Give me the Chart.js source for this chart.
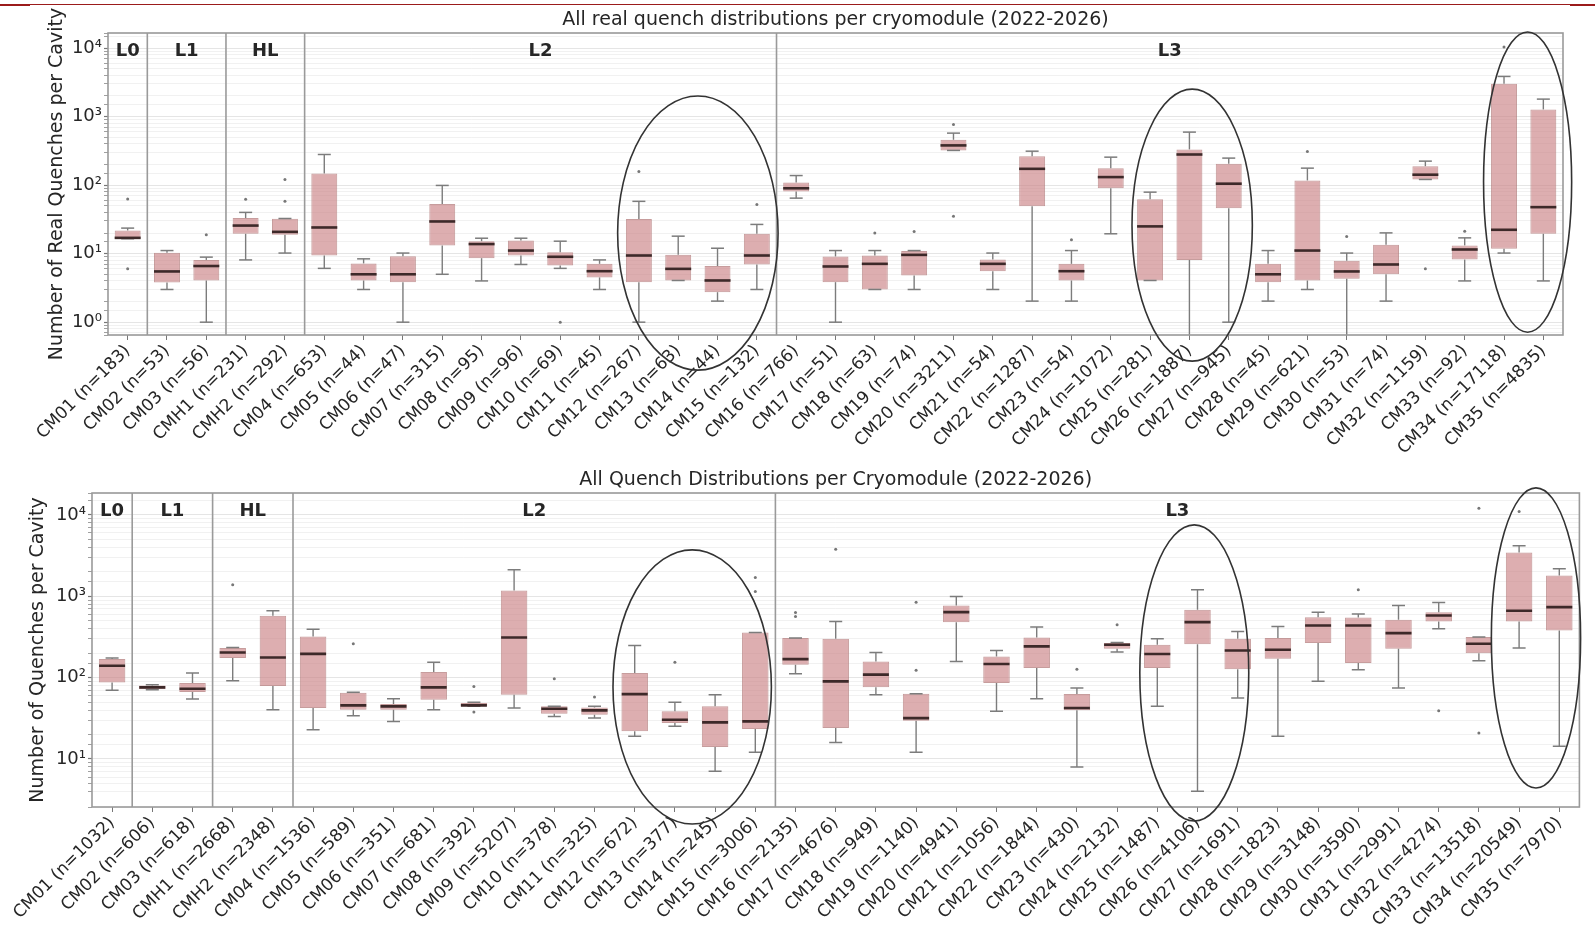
<!DOCTYPE html>
<html lang="en">
<head>
<meta charset="UTF-8">
<title>Quench distributions per cryomodule</title>
<style>
  body { margin: 0; background: #fff; width: 1595px; height: 939px; overflow: hidden; position: relative; }
  .rule { position: absolute; background: #9b1b1b; }
  canvas { position: absolute; left: 0; }
  #chartReal { top: 0; }
  #chartAll { top: 460px; }
</style>
<script src="https://cdn.jsdelivr.net/npm/chart.js"></script>
</head>
<body>
<div class="rule" style="left:0;top:4px;width:1595px;height:1.3px"></div>
<div class="rule" style="left:0;top:4px;width:30px;height:2.4px"></div>
<div class="rule" style="left:1570px;top:4px;width:25px;height:2.4px"></div>

<canvas id="chartReal" width="1595" height="460"></canvas>
<canvas id="chartAll" width="1595" height="479"></canvas>

<script>
// ---- top panel: real quenches per cavity ----
const realLabels = ['CM01 (n=183)','CM02 (n=53)','CM03 (n=56)','CMH1 (n=231)','CMH2 (n=292)','CM04 (n=653)','CM05 (n=44)','CM06 (n=47)','CM07 (n=315)','CM08 (n=95)','CM09 (n=96)','CM10 (n=69)','CM11 (n=45)','CM12 (n=267)','CM13 (n=63)','CM14 (n=44)','CM15 (n=132)','CM16 (n=766)','CM17 (n=51)','CM18 (n=63)','CM19 (n=74)','CM20 (n=3211)','CM21 (n=54)','CM22 (n=1287)','CM23 (n=54)','CM24 (n=1072)','CM25 (n=281)','CM26 (n=1887)','CM27 (n=945)','CM28 (n=45)','CM29 (n=621)','CM30 (n=53)','CM31 (n=74)','CM32 (n=1159)','CM33 (n=92)','CM34 (n=17118)','CM35 (n=4835)'];
const realLow  = [16.5, 3.0, 1, 8.1, 10.2, 6.1, 3.0, 1, 5.0, 4.0, 6.95, 6.1, 3.0, 1, 4.06, 2.03, 3.0, 64.6, 1, 3.0, 3.0, 321, 3.0, 2.03, 2.03, 19.5, 4.06, 0.5, 1, 2.03, 3.0, 0.5, 2.03, 121, 4.0, 10.2, 4.0];
const realQ1   = [16.5, 3.8, 4.06, 19.5, 18.8, 9.4, 4.06, 3.84, 13.2, 8.6, 9.4, 6.7, 4.5, 3.84, 4.06, 2.74, 6.95, 81, 3.84, 3.0, 4.8, 321, 5.55, 49, 4.06, 90, 4.06, 8.1, 46, 3.84, 4.06, 4.3, 5.0, 121, 8.2, 11.8, 19.5];
const realMed  = [17, 5.5, 6.6, 25.7, 20.8, 24.1, 5.0, 5.0, 29.5, 13.8, 11.1, 9.0, 5.55, 9.4, 6.0, 4.06, 9.4, 90, 6.5, 7.1, 9.6, 380, 7.1, 173, 5.55, 131, 25, 280, 105, 5.0, 11.1, 5.5, 6.95, 142, 11.5, 22.3, 47.7];
const realQ3   = [21.8, 10.3, 8.1, 33, 32.3, 148, 7.2, 9.2, 53, 15.2, 15.6, 10.5, 7.1, 32, 9.6, 6.6, 19.5, 109, 9.1, 9.4, 10.9, 459, 8.2, 265, 7.1, 177, 62, 332, 205, 7.1, 117, 7.9, 13.5, 189, 13.2, 3012, 1273];
const realHigh = [23.6, 11.1, 8.9, 40, 32.6, 280, 8.4, 10.2, 99, 16.8, 16.8, 15.2, 8.1, 58, 18, 12, 26.7, 138, 11.1, 11.1, 11.1, 574, 10.2, 313, 11.1, 256, 79, 594, 248, 11.1, 177, 10.2, 20.1, 224, 17, 3856, 1800];
const realOutliers = [[63, 6], [], [18.8], [62], [121, 58], [], [], [], [], [], [], [1], [], [158], [], [], [52], [], [], [20], [21], [769, 35], [], [], [15.9], [], [], [], [], [], [310], [17.8], [], [6], [21.3], [10340], []];

// ---- bottom panel: all quenches per cavity ----
const allLabels = ['CM01 (n=1032)','CM02 (n=606)','CM03 (n=618)','CMH1 (n=2668)','CMH2 (n=2348)','CM04 (n=1536)','CM05 (n=589)','CM06 (n=351)','CM07 (n=681)','CM08 (n=392)','CM09 (n=5207)','CM10 (n=378)','CM11 (n=325)','CM12 (n=672)','CM13 (n=377)','CM14 (n=245)','CM15 (n=3006)','CM16 (n=2135)','CM17 (n=4676)','CM18 (n=949)','CM19 (n=1140)','CM20 (n=4941)','CM21 (n=1056)','CM22 (n=1844)','CM23 (n=430)','CM24 (n=2132)','CM25 (n=1487)','CM26 (n=4106)','CM27 (n=1691)','CM28 (n=1823)','CM29 (n=3148)','CM30 (n=3590)','CM31 (n=2991)','CM32 (n=4274)','CM33 (n=13518)','CM34 (n=20549)','CM35 (n=7970)'];
const allLow  = [70, 71, 54.6, 91.6, 40.4, 22.9, 34, 29, 40.4, 44.4, 42.3, 33.4, 31.8, 19, 25.2, 7.06, 12.1, 112, 16, 61.7, 12.1, 158, 38.5, 55, 8.0, 206, 44.4, 4.0, 56, 19, 90, 125, 74.5, 398, 161, 231, 14.3];
const allQ1   = [87, 72, 66.5, 174, 79, 42.3, 40.4, 40.4, 53.6, 44.4, 61.7, 36, 35, 21.9, 27.7, 14, 23.3, 144, 24, 76, 29.6, 481, 86, 131, 39.6, 226, 131, 258, 127, 171, 266, 151, 226, 490, 200, 490, 380];
const allMed  = [140, 76, 73, 204, 177, 196, 45.6, 44.4, 76, 45.6, 312, 41.5, 39.6, 62.8, 30.4, 28.2, 29, 169, 90, 109, 31.8, 638, 147, 242, 42.3, 254, 195, 481, 216, 220, 438, 438, 352, 581, 261, 663, 735];
const allQ3   = [169, 80, 86, 231, 576, 321, 65, 47.3, 117, 48.7, 1178, 44.4, 43, 114, 38.5, 44.4, 359, 306, 300, 158, 63.4, 771, 182, 312, 62.8, 266, 254, 682, 300, 306, 554, 550, 514, 638, 315, 3451, 1799];
const allHigh = [174, 82, 114, 235, 663, 394, 66, 55, 155, 50, 2113, 44.4, 44.4, 249, 49.7, 61.7, 359, 306, 490, 204, 63.4, 995, 216, 418, 74.5, 271, 300, 1200, 370, 426, 638, 604, 771, 839, 315, 4169, 2173];
const allOutliers = [[], [], [], [1384], [], [], [261], [], [], [78, 37.8], [], [97], [57.7], [], [155], [], [1702, 1146], [632, 565], [3793], [], [847, 123], [], [], [], [127], [447], [], [], [], [], [], [1200], [], [39.3], [12080, 20.8], [10990], []];

// linac sections: name and index of first cryomodule in it
const sectionNames = ['L0', 'L1', 'HL', 'L2', 'L3'];
const sectionStart = [0, 1, 3, 5, 17];

// hand-drawn ellipses: centre category, half width (categories), centre log10 value, half height (decades)
const realEllCat = [14.5, 27.07, 35.6];
const realEllCatR = [2.04, 1.53, 1.12];
const realEllLog = [1.30, 1.416, 2.044];
const realEllLogR = [2.0, 1.985, 2.19];
const allEllCat = [14.43, 26.92, 35.42];
const allEllCatR = [1.97, 1.355, 1.11];
const allEllLog = [1.886, 2.058, 2.488];
const allEllLogR = [1.685, 1.82, 1.845];

Chart.defaults.font.family = '"DejaVu Sans", sans-serif';
Chart.defaults.color = '#262626';

const sup = {'-1': '⁻¹', 0: '⁰', 1: '¹', 2: '²', 3: '³', 4: '⁴', 5: '⁵'};
function isMajor(v) {
    const l = Math.log10(v);
    return Math.abs(l - Math.round(l)) < 1e-6;
}

function boxDatasets(labels, low, q1, med, q3, high, outliers) {
    let pts = [];
    outliers.forEach((list, i) => list.forEach(v => pts.push({x: labels[i], y: v})));
    const whisker = {type: 'bar', backgroundColor: '#7c7c7c', borderWidth: 0, maxBarThickness: 1.4, grouped: false, order: 3};
    const cap = {type: 'line', showLine: false, pointStyle: 'line', pointRadius: 6.5, pointBorderColor: '#7c7c7c', pointBorderWidth: 1.5, clip: 0, order: 1};
    return [
        {type: 'line', data: pts, showLine: false, pointRadius: 1.5, pointBackgroundColor: '#777', pointBorderWidth: 0, clip: 0, order: 0},
        {type: 'line', data: med, showLine: false, pointStyle: 'line', pointRadius: 13, pointBorderColor: '#3d2929', pointBorderWidth: 2.6, clip: 0, order: 0},
        Object.assign({data: high}, cap),
        Object.assign({data: low}, cap),
        {type: 'bar', data: q1.map((v, i) => [v, q3[i]]), backgroundColor: 'rgba(200,125,128,0.62)',
         borderColor: 'rgba(175,115,115,0.7)', borderWidth: 1, borderSkipped: false,
         barPercentage: 0.66, categoryPercentage: 1, grouped: false, order: 2},
        Object.assign({data: low.map((v, i) => [v, q1[i]])}, whisker),
        Object.assign({data: q3.map((v, i) => [v, high[i]])}, whisker)
    ];
}

const decoPlugin = {
    id: 'deco',
    beforeDatasetsDraw(chart, args, opts) {
        const {ctx, chartArea: a, scales: {x}} = chart;
        ctx.save();
        ctx.strokeStyle = '#9a9a9a';
        ctx.lineWidth = 1.6;
        sectionStart.slice(1).forEach(s => {
            const px = x.getPixelForValue(s - 0.5);
            ctx.beginPath(); ctx.moveTo(px, a.top); ctx.lineTo(px, a.bottom); ctx.stroke();
        });
        ctx.restore();
    },
    afterDraw(chart, args, opts) {
        const {ctx, chartArea: a, scales: {x, y}} = chart;
        const n = chart.data.labels.length;
        ctx.save();
        ctx.strokeStyle = '#9a9a9a';
        ctx.lineWidth = 1.6;
        ctx.strokeRect(a.left, a.top, a.right - a.left, a.bottom - a.top);

        ctx.fillStyle = '#262626';
        ctx.textAlign = 'center';
        ctx.textBaseline = 'middle';
        ctx.font = 'bold 18px "DejaVu Sans"';
        sectionNames.forEach((name, k) => {
            const end = k + 1 < sectionStart.length ? sectionStart[k + 1] : n;
            const cx = (x.getPixelForValue(sectionStart[k] - 0.5) + x.getPixelForValue(end - 0.5)) / 2;
            ctx.fillText(name, cx, a.top + 18);
        });

        ctx.font = '19px "DejaVu Sans"';
        ctx.fillText(opts.title, (a.left + a.right) / 2, 20);

        ctx.strokeStyle = '#333';
        ctx.lineWidth = 1.6;
        opts.ellCat.forEach((c, i) => {
            const cx = x.getPixelForValue(c);
            const rx = x.getPixelForValue(c + opts.ellCatR[i]) - cx;
            const cy = y.getPixelForValue(Math.pow(10, opts.ellLog[i]));
            const ry = y.getPixelForValue(Math.pow(10, opts.ellLog[i] - opts.ellLogR[i])) - cy;
            ctx.beginPath();
            ctx.ellipse(cx, cy, rx, ry, 0, 0, Math.PI * 2);
            ctx.stroke();
        });
        ctx.restore();
    }
};

function makeChart(id, cfg) {
    return new Chart(document.getElementById(id), {
        type: 'bar',
        data: {
            labels: cfg.labels,
            datasets: boxDatasets(cfg.labels, cfg.low, cfg.q1, cfg.med, cfg.q3, cfg.high, cfg.outliers)
        },
        plugins: [decoPlugin],
        options: {
            responsive: false,
            animation: false,
            devicePixelRatio: 1,
            layout: {padding: {top: 33, right: cfg.padRight, left: 0, bottom: 0}},
            plugins: {
                legend: {display: false},
                tooltip: {enabled: false},
                deco: {title: cfg.title, ellCat: cfg.ellCat, ellCatR: cfg.ellCatR, ellLog: cfg.ellLog, ellLogR: cfg.ellLogR}
            },
            scales: {
                x: {
                    offset: true,
                    afterFit: s => { s.height = cfg.xHeight; },
                    border: {display: false},
                    grid: {offset: false, drawOnChartArea: false, tickLength: 5, tickColor: '#777'},
                    ticks: {autoSkip: false, maxRotation: 45, minRotation: 45, padding: 1, font: {size: 17}, color: '#262626'}
                },
                y: {
                    type: 'logarithmic',
                    min: cfg.yMin,
                    max: cfg.yMax,
                    afterFit: s => { s.width = cfg.yWidth; },
                    border: {display: false},
                    grid: {
                        color: c => (c.tick && isMajor(c.tick.value)) ? 'rgba(0,0,0,0.10)' : 'rgba(0,0,0,0.055)',
                        tickColor: '#777',
                        tickWidth: c => (c.tick && isMajor(c.tick.value)) ? 1.2 : 0.7,
                        tickLength: 4
                    },
                    ticks: {
                        autoSkip: false,
                        padding: 2,
                        font: {size: 18},
                        color: '#262626',
                        callback: v => isMajor(v) ? '10' + sup[Math.round(Math.log10(v))] : ''
                    },
                    title: {display: true, text: cfg.yTitle, font: {size: 19}, color: '#262626', padding: {top: cfg.yTitlePad, bottom: 0}}
                }
            }
        }
    });
}

makeChart('chartReal', {
    labels: realLabels, low: realLow, q1: realQ1, med: realMed, q3: realQ3, high: realHigh, outliers: realOutliers,
    title: 'All real quench distributions per cryomodule (2022-2026)',
    yTitle: 'Number of Real Quenches per Cavity',
    yMin: 0.65, yMax: 16600, yWidth: 108, yTitlePad: 45.6, xHeight: 125, padRight: 32,
    ellCat: realEllCat, ellCatR: realEllCatR, ellLog: realEllLog, ellLogR: realEllLogR
});

makeChart('chartAll', {
    labels: allLabels, low: allLow, q1: allQ1, med: allMed, q3: allQ3, high: allHigh, outliers: allOutliers,
    title: 'All Quench Distributions per Cryomodule (2022-2026)',
    yTitle: 'Number of Quenches per Cavity',
    yMin: 2.57, yMax: 18600, yWidth: 92, yTitlePad: 26.6, xHeight: 132, padRight: 3,
    ellCat: allEllCat, ellCatR: allEllCatR, ellLog: allEllLog, ellLogR: allEllLogR
});
</script>
</body>
</html>
